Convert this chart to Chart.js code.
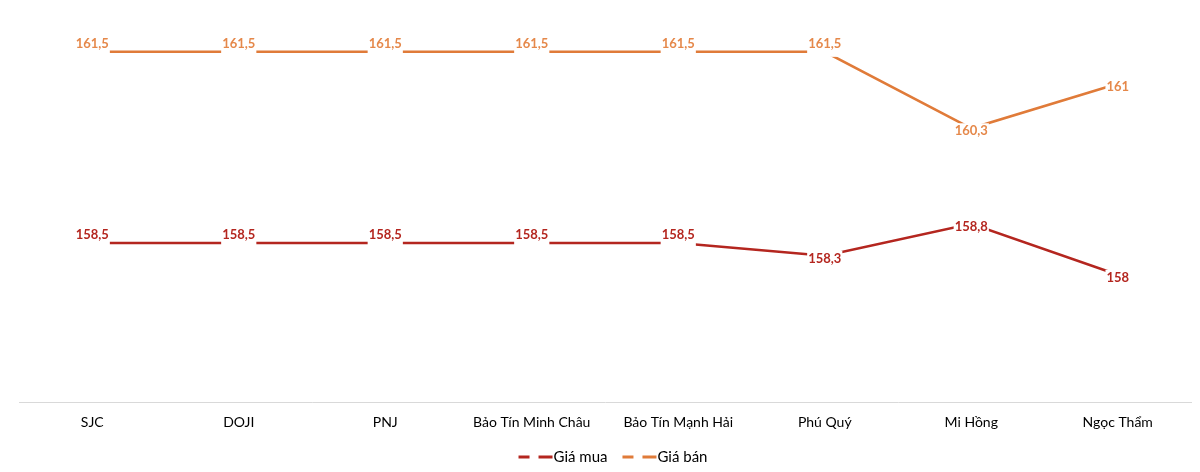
<!DOCTYPE html>
<html>
<head>
<meta charset="utf-8">
<script src="https://cdn.jsdelivr.net/npm/chart.js@4.4.0/dist/chart.umd.min.js"></script>
<style>
  html, body { margin: 0; padding: 0; background: #ffffff; }
  #wrap { width: 1200px; height: 472px; position: relative; }
</style>
</head>
<body>
<div id="wrap"><canvas id="c"></canvas></div>
<script>
const categories = ["SJC", "DOJI", "PNJ", "Bảo Tín Minh Châu", "Bảo Tín Mạnh Hải", "Phú Quý", "Mi Hồng", "Ngọc Thẩm"];
const giaMua = [158.5, 158.5, 158.5, 158.5, 158.5, 158.3, 158.8, 158];
const giaBan = [161.5, 161.5, 161.5, 161.5, 161.5, 161.5, 160.3, 161];
const seriesNames = ["Giá mua", "Giá bán"];

const RED = "#B4261F";
const ORANGE = "#E07B39";
const ORANGE_LABEL = "#E5884A";

const fmt = v => String(v).replace(".", ",");

const labelPlugin = {
  id: "boxLabels",
  afterDatasetsDraw(chart) {
    const ctx = chart.ctx;
    ctx.save();
    ctx.font = "bold 13px Lato";
    ctx.textAlign = "center";
    ctx.textBaseline = "middle";
    chart.data.datasets.forEach((ds, di) => {
      const meta = chart.getDatasetMeta(di);
      meta.data.forEach((pt, i) => {
        const v = ds.data[i];
        const prev = ds.data[i - 1], next = ds.data[i + 1];
        const flat = (prev === v) || (next === v);
        const dy = flat ? -8 : 3;
        const txt = fmt(v);
        const w = ctx.measureText(txt).width + 2;
        const ty = pt.y + dy;
        const top = Math.min(ty - 8, pt.y - 5);
        const bot = Math.max(ty + 8, pt.y + 5);
        ctx.fillStyle = "#ffffff";
        ctx.fillRect(pt.x - w / 2, top, w, bot - top);
        ctx.fillStyle = ds.labelColor;
        ctx.fillText(txt, pt.x, ty);
      });
    });
    ctx.restore();
  }
};

const legendPlugin = {
  id: "dashLegend",
  afterDraw(chart) {
    const ctx = chart.ctx;
    ctx.save();
    ctx.font = "15px Lato";
    ctx.textBaseline = "middle";
    ctx.textAlign = "left";
    const y = 457;
    const iconW = 35, gap = 15;
    const items = chart.data.datasets.map(ds => ({
      label: ds.label, color: ds.borderColor, w: iconW + ctx.measureText(ds.label).width
    }));
    const total = items.reduce((s, it) => s + it.w, 0) + gap * (items.length - 1);
    let x = chart.width / 2 + 13 - total / 2;
    items.forEach(it => {
      ctx.fillStyle = it.color;
      ctx.fillRect(x, y - 1.5, 11, 3);
      ctx.fillRect(x + 20, y - 1.5, 14, 3);
      ctx.fillStyle = "#000000";
      ctx.fillText(it.label, x + iconW, y);
      x += it.w + gap;
    });
    ctx.restore();
  }
};

new Chart(document.getElementById("c"), {
  type: "line",
  data: {
    labels: categories,
    datasets: [
      {
        label: seriesNames[0],
        data: giaMua,
        borderColor: RED,
        backgroundColor: RED,
        labelColor: RED,
        borderWidth: 2.5,
        pointRadius: 0,
        pointHoverRadius: 0,
        tension: 0
      },
      {
        label: seriesNames[1],
        data: giaBan,
        borderColor: ORANGE,
        backgroundColor: ORANGE,
        labelColor: ORANGE_LABEL,
        borderWidth: 2.5,
        pointRadius: 0,
        pointHoverRadius: 0,
        tension: 0
      }
    ]
  },
  options: {
    responsive: true,
    maintainAspectRatio: false,
    animation: false,
    layout: { padding: { left: 19, right: 9, top: 20, bottom: 29 } },
    plugins: {
      legend: { display: false },
      tooltip: { enabled: false }
    },
    scales: {
      x: {
        offset: true,
        grid: { display: false, drawTicks: false, offset: true },
        border: { display: true, color: "#D9D9D9", width: 1 },
        ticks: {
          color: "#000000",
          font: { family: "Lato", size: 14 },
          padding: 12,
          maxRotation: 0,
          autoSkip: false
        }
      },
      y: {
        display: false,
        min: 156,
        max: 162
      }
    }
  },
  plugins: [labelPlugin, legendPlugin]
});
</script>
</body>
</html>
